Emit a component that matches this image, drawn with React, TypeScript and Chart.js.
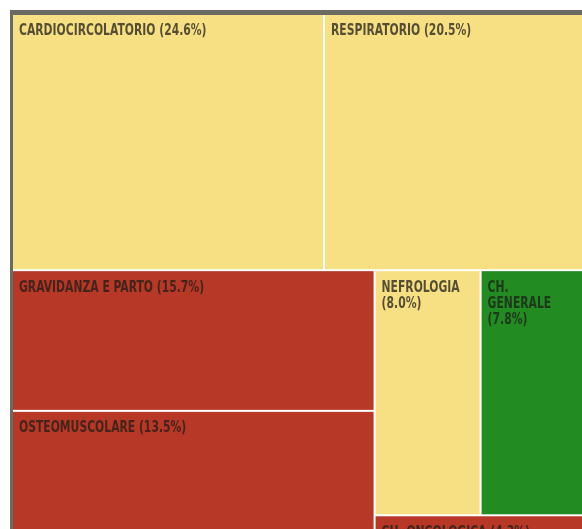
import React, { useEffect, useRef } from 'react';
import { Chart, registerables } from 'chart.js';
Chart.register(...registerables);

// ---- data ----
const categories = [
  'CARDIOCIRCOLATORIO',
  'RESPIRATORIO',
  'GRAVIDANZA E PARTO',
  'OSTEOMUSCOLARE',
  'NEFROLOGIA',
  'CH. GENERALE',
  'CH. ONCOLOGICA',
  'ALTRO',
];
const shares = [24.6, 20.5, 15.7, 13.5, 8.0, 7.8, 4.3, 5.6];
const levels = ['medio', 'medio', 'alto', 'alto', 'medio', 'basso', 'alto', 'alto'];

// ---- layout / style config ----
const levelColors: Record<string, string> = {
  medio: '#f7e084',
  alto: '#b73826',
  basso: '#228b22',
};
const strips = [
  { dir: 'h', items: [0, 1] },
  { dir: 'v', items: [2, 3, 7] },
  { dir: 'h', items: [4, 5] },
  { dir: 'h', items: [6] },
];
const MAP_W = 572;
const MAP_H = 568;
const FONT = "bold 15px 'DejaVu Sans Condensed', 'DejaVu Sans', sans-serif";
const SQUEEZE = 0.8;

type R = { x0: number; y0: number; x1: number; y1: number };

function computeLayout(): R[] {
  let x0 = 0, y0 = 0;
  const x1 = MAP_W, y1 = MAP_H;
  let remaining = shares.reduce((a, b) => a + b, 0);
  const rects: R[] = [];
  for (const s of strips) {
    const sum = s.items.reduce((a, i) => a + shares[i], 0);
    if (s.dir === 'h') {
      const h = ((y1 - y0) * sum) / remaining;
      let x = x0;
      for (const i of s.items) {
        const w = ((x1 - x0) * shares[i]) / sum;
        rects[i] = { x0: x, y0, x1: x + w, y1: y0 + h };
        x += w;
      }
      y0 += h;
    } else {
      const w = ((x1 - x0) * sum) / remaining;
      let y = y0;
      for (const i of s.items) {
        const h = ((y1 - y0) * shares[i]) / sum;
        rects[i] = { x0, y0: y, x1: x0 + w, y1: y + h };
        y += h;
      }
      x0 += w;
    }
    remaining -= sum;
  }
  return rects;
}

function wrap(ctx: CanvasRenderingContext2D, text: string, maxW: number): string[] {
  const words = text.split(' ');
  const lines: string[] = [];
  let cur = '';
  for (const w of words) {
    const t = cur ? cur + ' ' + w : w;
    if (cur && ctx.measureText(t).width * SQUEEZE > maxW) {
      lines.push(cur);
      cur = w;
    } else cur = t;
  }
  if (cur) lines.push(cur);
  return lines;
}

const treemapPlugin = {
  id: 'treemapCells',
  beforeDatasetsDraw(chart: any) {
    const { ctx, scales } = chart;
    const xs = scales.x, ys = scales.y;
    const rects = computeLayout();
    ctx.save();
    ctx.fillStyle = '#ffffff';
    ctx.fillRect(xs.getPixelForValue(0), ys.getPixelForValue(0), xs.getPixelForValue(MAP_W) - xs.getPixelForValue(0), ys.getPixelForValue(MAP_H) - ys.getPixelForValue(0));
    rects.forEach((r, i) => {
      const px0 = xs.getPixelForValue(r.x0) + 1;
      const px1 = xs.getPixelForValue(r.x1) - 1;
      const py0 = ys.getPixelForValue(r.y0) + 1;
      const py1 = ys.getPixelForValue(r.y1) - 1;
      ctx.fillStyle = levelColors[levels[i]];
      ctx.fillRect(px0, py0, px1 - px0, py1 - py0);
      ctx.save();
      ctx.beginPath();
      ctx.rect(px0, py0, px1 - px0, py1 - py0);
      ctx.clip();
      ctx.font = FONT;
      ctx.fillStyle = 'rgba(30,28,24,0.75)';
      ctx.textBaseline = 'top';
      ctx.textAlign = 'left';
      const label = `${categories[i]} (${shares[i].toFixed(1)}%)`;
      const lines = wrap(ctx, label, px1 - px0 - 14);
      lines.forEach((ln, k) => {
        ctx.save();
        ctx.translate(px0 + 6, py0 + 9 + k * 16);
        ctx.scale(SQUEEZE, 1);
        ctx.fillText(ln, 0, 0);
        ctx.restore();
      });
      ctx.restore();
    });
    // frame
    ctx.fillStyle = '#6b6a60';
    const fx0 = xs.getPixelForValue(-2);
    const fy0 = ys.getPixelForValue(-4);
    ctx.fillRect(fx0, fy0, xs.getPixelForValue(MAP_W) - fx0, ys.getPixelForValue(1) - fy0);
    ctx.fillRect(fx0, fy0, xs.getPixelForValue(1) - fx0, ys.getPixelForValue(MAP_H) - fy0);
    ctx.restore();
  },
};

export default function App() {
  const ref = useRef<HTMLCanvasElement>(null);
  useEffect(() => {
    if (!ref.current) return;
    const chart = new Chart(ref.current, {
      type: 'scatter',
      data: {
        datasets: [
          {
            data: [],
            pointRadius: 0,
          },
        ],
      },
      options: {
        animation: false,
        responsive: false,
        events: [],
        layout: { padding: 0 },
        plugins: { legend: { display: false }, tooltip: { enabled: false } },
        scales: {
          x: { type: 'linear', min: -12, max: 570, display: false },
          y: { type: 'linear', min: -14, max: 515, reverse: true, display: false },
        },
      },
      plugins: [treemapPlugin],
    });
    return () => chart.destroy();
  }, []);
  return (
    <div style={{ position: 'fixed', left: 0, top: 0, width: 582, height: 529, background: '#fff' }}>
      <canvas ref={ref} width={582} height={529} style={{ display: 'block' }} />
    </div>
  );
}
